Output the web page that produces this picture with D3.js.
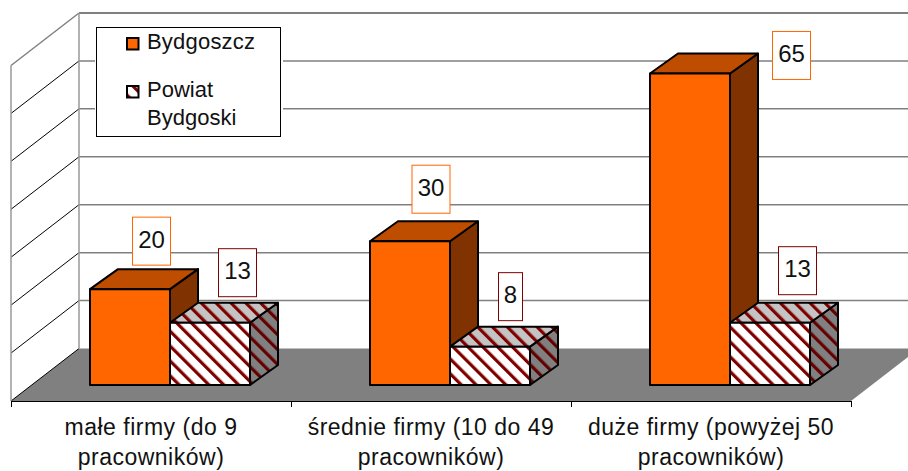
<!DOCTYPE html>
<html>
<head>
<meta charset="utf-8">
<script src="https://d3js.org/d3.v7.min.js"></script>
<style>
html, body { margin: 0; padding: 0; background: #fff; }
svg { display: block; }
text { font-family: "Liberation Sans", Arial, sans-serif; fill: #111; }
</style>
</head>
<body>
<div id="chart"></div>
<script>
var categories = ["małe firmy (do 9 pracowników)", "średnie firmy (10 do 49 pracowników)", "duże firmy (powyżej 50 pracowników)"];
var seriesNames = ["Bydgoszcz", "Powiat Bydgoski"];
var bydgoszcz = [20, 30, 65];
var powiat = [13, 8, 13];
var yTicks = [0, 10, 20, 30, 40, 50, 60, 70];

// labels were dragged by hand in the original, these are the offsets from bar centre / bar top
var labelDx = [[21.5, 21, 101.5], [27.5, 20.5, 27.5]];
var labelDy = [[-48, -52, -18], [-50, -50, -52]];

var width = 908, height = 471;
var svg = d3.select("#chart").append("svg").attr("width", width).attr("height", height);
var defs = svg.append("defs");

var front = {x0: 11, x1: 851, y: 401};
var depth = {x: 68, y: -52.5};
var barDepth = {x: 28, y: -20};
var plotH = 335.5;

var yBack = d3.scaleLinear().domain([0, 70]).range([front.y + depth.y, front.y + depth.y - plotH]);
var yFront = d3.scaleLinear().domain([0, 70]).range([front.y, front.y - plotH]);
var yBar = d3.scaleLinear().domain([0, 70]).range([385, 385 - plotH]);

var x0 = d3.scaleBand().domain(categories).range([30, 870]).paddingInner(120 / 280).paddingOuter(60 / 280);
var x1 = d3.scaleBand().domain(seriesNames).range([0, x0.bandwidth()]);

function stripes(id, bg, fg) {
    var p = defs.append("pattern").attr("id", id).attr("patternUnits", "userSpaceOnUse")
        .attr("width", 10.5).attr("height", 10.5).attr("patternTransform", "rotate(-45)");
    p.append("rect").attr("width", 10.5).attr("height", 10.5).attr("fill", bg);
    p.append("rect").attr("width", 3.2).attr("height", 10.5).attr("fill", fg);
}
stripes("hatchFront", "#fff", "#800000");
stripes("hatchTop", "#c4c4c4", "#800000");
stripes("hatchSide", "#808080", "#660000");

var faces = [
    {front: "#ff6600", top: "#bf4d00", side: "#803300", label: "#ff6600"},
    {front: "url(#hatchFront)", top: "url(#hatchTop)", side: "url(#hatchSide)", label: "#800000"}
];

// floor
var backY = front.y + depth.y;
svg.append("polygon")
    .attr("points", [[front.x0, front.y], [front.x1, front.y], [front.x1 + depth.x, backY], [front.x0 + depth.x, backY]].join(" "))
    .attr("fill", "#808080");

// walls
yTicks.forEach(function(t) {
    if (t > 0) {
        svg.append("line").attr("x1", front.x0 + depth.x).attr("x2", width)
            .attr("y1", yBack(t)).attr("y2", yBack(t))
            .attr("stroke", "#808080").attr("stroke-width", t == 70 ? 2 : 1.5);
    }
    svg.append("line").attr("x1", front.x0).attr("x2", front.x0 + depth.x)
        .attr("y1", yFront(t)).attr("y2", yBack(t))
        .attr("stroke", t == 70 ? "#808080" : "#000")
        .attr("stroke-width", t == 70 ? 1.5 : 1);
});
svg.append("line").attr("x1", front.x0).attr("x2", front.x0)
    .attr("y1", yFront(0)).attr("y2", yFront(70)).attr("stroke", "#999").attr("stroke-width", 1.5);
svg.append("line").attr("x1", front.x0 + depth.x).attr("x2", front.x0 + depth.x)
    .attr("y1", yBack(0)).attr("y2", yBack(70)).attr("stroke", "#999").attr("stroke-width", 1.5);

// category axis
var tickScale = d3.scaleLinear().domain([0, categories.length]).range([front.x0, front.x1]);
var axis = svg.append("g").attr("transform", "translate(0," + front.y + ")")
    .call(d3.axisBottom(tickScale).tickValues(d3.range(categories.length + 1)).tickFormat("").tickSize(6).tickSizeOuter(0));
axis.selectAll("line, path").attr("stroke", "#000");

// bars, one group per category so the neighbours overlap properly
var series = [bydgoszcz, powiat];
categories.forEach(function(cat, i) {
    series.forEach(function(values, s) {
        var v = values[i];
        var xa = x0(cat) + x1(seriesNames[s]);
        var xb = xa + x1.bandwidth();
        var yt = yBar(v), yb = yBar(0);
        var dx = barDepth.x, dy = barDepth.y;
        var g = svg.append("g").attr("stroke", "#000").attr("stroke-width", 2).attr("stroke-linejoin", "round");
        g.append("polygon").attr("fill", faces[s].side)
            .attr("points", [[xb, yt], [xb + dx, yt + dy], [xb + dx, yb + dy], [xb, yb]].join(" "));
        g.append("polygon").attr("fill", faces[s].top)
            .attr("points", [[xa, yt], [xb, yt], [xb + dx, yt + dy], [xa + dx, yt + dy]].join(" "));
        g.append("rect").attr("x", xa).attr("y", yt).attr("width", xb - xa).attr("height", yb - yt)
            .attr("fill", faces[s].front);
    });
});

// value labels
series.forEach(function(values, s) {
    values.forEach(function(v, i) {
        var cx = x0(categories[i]) + x1(seriesNames[s]) + x1.bandwidth() / 2 + labelDx[s][i];
        var cy = yBar(v) + labelDy[s][i];
        var w = String(v).length > 1 ? 38 : 24;
        svg.append("rect").attr("x", cx - w / 2).attr("y", cy - 24).attr("width", w).attr("height", 48)
            .attr("fill", "#fff").attr("stroke", faces[s].label).attr("stroke-width", 1);
        svg.append("text").attr("x", cx).attr("y", cy + 6.5).attr("text-anchor", "middle")
            .attr("font-size", 24).text(v);
    });
});

// category labels, broken in two lines like the original
var lineBreak = ["małe firmy (do 9".length, "średnie firmy (10 do 49".length, "duże firmy (powyżej 50".length];
categories.forEach(function(cat, i) {
    var cx = (tickScale(i) + tickScale(i + 1)) / 2;
    [cat.slice(0, lineBreak[i]), cat.slice(lineBreak[i] + 1)].forEach(function(line, k) {
        svg.append("text").attr("x", cx).attr("y", 435 + k * 30).attr("text-anchor", "middle")
            .attr("font-size", 23).attr("letter-spacing", 0.5).text(line);
    });
});

// legend
var legend = svg.append("g");
legend.append("rect").attr("x", 95).attr("y", 25.5).attr("width", 188).attr("height", 113).attr("fill", "#fff");
legend.append("rect").attr("x", 96.5).attr("y", 27.5).attr("width", 184).attr("height", 109)
    .attr("fill", "#fff").attr("stroke", "#000").attr("stroke-width", 1);
legend.append("rect").attr("x", 127).attr("y", 38).attr("width", 11.5).attr("height", 11.5)
    .attr("fill", "#ff6600").attr("stroke", "#000").attr("stroke-width", 2);
legend.append("rect").attr("x", 127).attr("y", 86).attr("width", 11.5).attr("height", 11.5)
    .attr("fill", "url(#hatchFront)").attr("stroke", "#000").attr("stroke-width", 2);
legend.append("text").attr("x", 147).attr("y", 49).attr("font-size", 22).attr("letter-spacing", 0.2).text(seriesNames[0]);
legend.append("text").attr("x", 147).attr("y", 97).attr("font-size", 22).text("Powiat");
legend.append("text").attr("x", 147).attr("y", 125).attr("font-size", 22).text("Bydgoski");
</script>
</body>
</html>
